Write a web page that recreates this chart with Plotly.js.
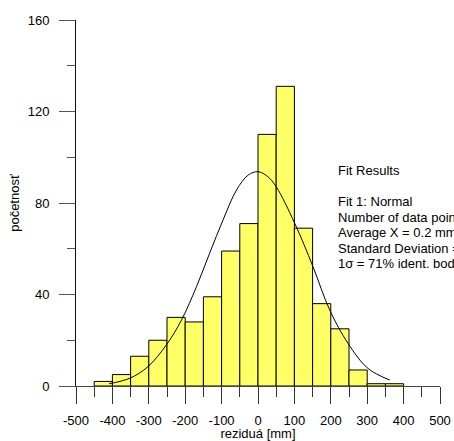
<!DOCTYPE html>
<html>
<head>
<meta charset="utf-8">
<script src="https://cdn.plot.ly/plotly-3.0.1.min.js"></script>
<style>html,body{margin:0;padding:0;background:#fff;}#chart{width:454px;height:441px;}</style>
</head>
<body>
<div id="chart"></div>
<script>
// Histogram bins (left edges, mm) and counts
const binLeft = [-450,-400,-350,-300,-250,-200,-150,-100,-50,0,50,100,150,200,250,300,350];
const binWidth = 50;
const counts = [2,5,13,20,30,28,39,59,71,110,131,69,36,25,7,1,1];

// Fitted normal curve
const curveX = [-409,-352,-302,-252,-210,-169,-133,-96,-59,-27,0,27,50,101,151,197,247,302,362];
const curveY = [1.0,3.4,8.5,17.9,28.9,43.4,58,72.6,85.7,92.2,93.7,91.5,87.1,71.1,52.2,33.2,18.7,7.7,2.6];

// Axis tick labels
const xTickVals = [-500,-400,-300,-200,-100,0,100,200,300,400,500];
const xTickText = ["-500","-400","-300","-200","-100","0","100","200","300","400","500"];
const yTickVals = [0,40,80,120,160];
const yTickText = ["0","40","80","120","160"];

// Fit results text
const fitLines = [
  "Fit Results",
  "",
  "Fit 1: Normal",
  "Number of data points = 647",
  "Average X = 0.2 mm",
  "Standard Deviation = 137 mm",
  "1σ = 71% ident. bodů"
];

const font = {family: "Arial, 'Liberation Sans', sans-serif", size: 13, color: "#000"};

const traces = [
  {
    type: "bar",
    x: binLeft,
    y: counts,
    width: binWidth,
    offset: 0,
    marker: {color: "#FFFF66", line: {color: "#000", width: 1}},
    hoverinfo: "skip"
  },
  {
    type: "scatter",
    mode: "lines",
    x: curveX,
    y: curveY,
    line: {color: "#000", width: 1, shape: "spline", smoothing: 1},
    hoverinfo: "skip"
  }
];

const plotL = 76, plotR = 440, plotT = 20, plotB = 386;
const H = plotB - plotT;
const lineY = [170.5, 186, 201.5, 217, 232.5, 248, 263.5];
const annotations = fitLines.map((t, i) => ({
  text: t,
  xref: "paper", yref: "paper",
  x: (336 - plotL) / (plotR - plotL),
  y: (plotB - lineY[i]) / H,
  xanchor: "left", yanchor: "middle",
  showarrow: false,
  align: "left",
  font: font
})).filter(a => a.text !== "");

const layout = {
  width: 454, height: 441,
  margin: {l: plotL, r: 454 - plotR, t: plotT, b: 441 - plotB},
  paper_bgcolor: "#fff", plot_bgcolor: "#fff",
  showlegend: false,
  bargap: 0,
  font: font,
  xaxis: {
    range: [-500, 500],
    tickmode: "array", tickvals: xTickVals, ticktext: xTickText,
    ticks: "outside", ticklen: 17, tickwidth: 1, tickcolor: "#333",
    minor: {tickmode: "linear", tick0: -500, dtick: 50, ticks: "outside", ticklen: 10, tickwidth: 1, tickcolor: "#333"},
    showline: true, linecolor: "#444", linewidth: 1,
    showgrid: false, zeroline: false,
    ticklabelstandoff: 5,
    tickfont: font,
    title: {text: "reziduá [mm]", font: font, standoff: 1},
    fixedrange: true
  },
  yaxis: {
    range: [0, 160],
    tickmode: "array", tickvals: yTickVals, ticktext: yTickText,
    ticks: "outside", ticklen: 16, tickwidth: 1, tickcolor: "#555",
    minor: {tickmode: "linear", tick0: 0, dtick: 20, ticks: "outside", ticklen: 8, tickwidth: 1, tickcolor: "#555"},
    showline: true, linecolor: "#111", linewidth: 1,
    showgrid: false, zeroline: false,
    ticklabelstandoff: 7,
    tickfont: font,
    title: {text: "početnosť", font: font, standoff: 5},
    fixedrange: true
  },
  annotations: annotations
};

Plotly.newPlot("chart", traces, layout, {staticPlot: true, displayModeBar: false});
</script>
</body>
</html>
